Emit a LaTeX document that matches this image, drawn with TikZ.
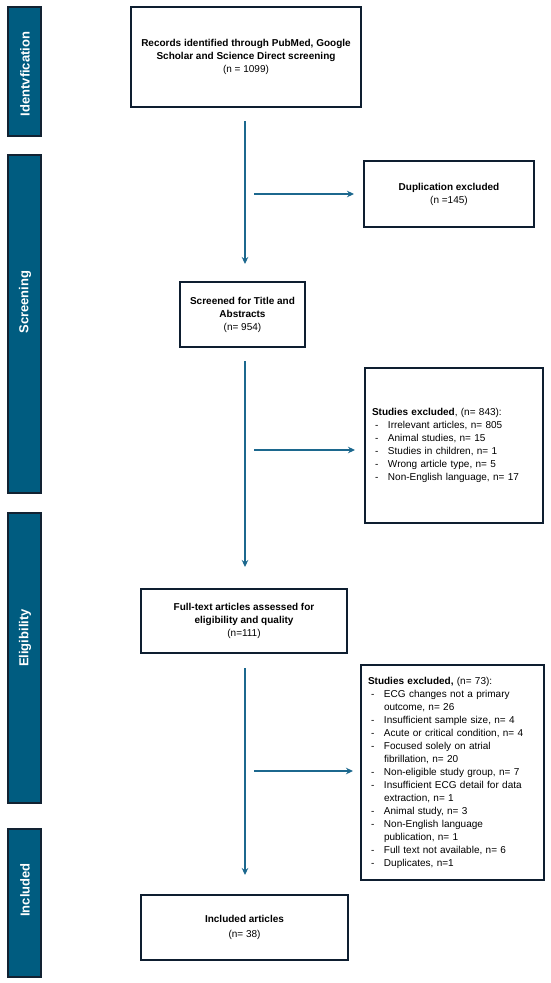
\documentclass[tikz,border=0pt]{standalone}
\usepackage{fontspec}
\setmainfont{Liberation Sans}
\usetikzlibrary{arrows.meta}
\definecolor{barfill}{RGB}{0,92,128}
\definecolor{barline}{RGB}{18,34,50}
\definecolor{arrowcol}{RGB}{28,104,142}
\definecolor{boxline}{RGB}{14,30,48}
\tikzset{
  x=1pt, y=-1pt,
  phasebar/.style={draw=barline, line width=1.4pt, fill=barfill, minimum width=33pt, inner sep=0pt},
  phasetext/.style={text=white, font=\fontsize{13}{15}\selectfont\bfseries, rotate=90, inner sep=0pt},
  flowbox/.style={draw=boxline, line width=2pt, fill=white, align=center, inner sep=2pt,
    font=\fontsize{10}{13}\selectfont},
  listbox/.style={draw=boxline, line width=2pt, fill=white, align=left, inner xsep=7pt, inner ysep=2pt,
    font=\fontsize{10}{13}\selectfont},
  arr/.style={draw=arrowcol, line width=1.3pt, -{Stealth[length=7pt,width=6.5pt]}}
}
\newcommand{\litem}[1]{\hspace*{3pt}\makebox[13pt][l]{-}#1}
\newcommand{\lcont}[1]{\hspace*{16pt}#1}
\begin{document}
\begin{tikzpicture}
\useasboundingbox (0,0) rectangle (550,983);
% phase bars
\node[phasebar, minimum height=129pt] (pb1) at (24.5,71.5) {};
\node[phasebar, minimum height=338pt] (pb2) at (24.5,324) {};
\node[phasebar, minimum height=290pt] (pb3) at (24.5,658) {};
\node[phasebar, minimum height=148pt] (pb4) at (24.5,903) {};
\node[phasetext] (pt1) at (25,74) {Identvfication};
\node[phasetext] (pt2) at (25,302) {Screening};
\node[phasetext] (pt3) at (25,638) {Eligibility};
\node[phasetext] (pt4) at (25,890) {Included};
% boxes
\node[flowbox, minimum width=230pt, minimum height=100pt] (rec) at (246,57)
  {\textbf{Records identified through PubMed, Google}\\ \textbf{Scholar and Science Direct screening}\\(n = 1099)};
\node[flowbox, minimum width=170pt, minimum height=66pt] (dup) at (449,194)
  {\textbf{Duplication excluded}\\(n =145)};
\node[flowbox, minimum width=125pt, minimum height=65pt] (scr) at (242.5,314.5)
  {\textbf{Screened for Title and}\\ \textbf{Abstracts}\\(n= 954)};
\node[listbox, minimum width=178pt, minimum height=155pt, text width=164pt] (ex1) at (454,445.5)
  {\textbf{Studies excluded}, (n= 843):\\
   \litem{Irrelevant articles, n= 805}\\
   \litem{Animal studies, n= 15}\\
   \litem{Studies in children, n= 1}\\
   \litem{Wrong article type, n= 5}\\
   \litem{Non-English language, n= 17}};
\node[flowbox, minimum width=206pt, minimum height=64pt] (full) at (244,621)
  {\textbf{Full-text articles assessed for}\\ \textbf{eligibility and quality}\\(n=111)};
\node[listbox, minimum width=183pt, minimum height=215pt, text width=169pt] (ex2) at (452.5,772.5)
  {\textbf{Studies excluded,} (n= 73):\\
   \litem{ECG changes not a primary}\\
   \lcont{outcome, n= 26}\\
   \litem{Insufficient sample size, n= 4}\\
   \litem{Acute or critical condition, n= 4}\\
   \litem{Focused solely on atrial}\\
   \lcont{fibrillation, n= 20}\\
   \litem{Non-eligible study group, n= 7}\\
   \litem{Insufficient ECG detail for data}\\
   \lcont{extraction, n= 1}\\
   \litem{Animal study, n= 3}\\
   \litem{Non-English language}\\
   \lcont{publication, n= 1}\\
   \litem{Full text not available, n= 6}\\
   \litem{Duplicates, n=1}};
\node[flowbox, minimum width=207pt, minimum height=65pt] (inc) at (244.5,927.5)
  {\textbf{Included articles}\\[2pt](n= 38)};
% connectors
\coordinate (spine) at (245,0);
\draw[arr, shorten <=13pt, shorten >=17pt] (spine |- rec.south) -- (spine |- scr.north);
\draw[arr, shorten <=13pt, shorten >=21pt] (spine |- scr.south) -- (spine |- full.north);
\draw[arr, shorten <=14pt, shorten >=19pt] (spine |- full.south) -- (spine |- inc.north);
\coordinate (h1) at (254,194);
\coordinate (h2) at (254,450);
\coordinate (h3) at (254,771);
\draw[arr, shorten >=9pt] (h1) -- (h1 -| dup.west);
\draw[arr, shorten >=9pt] (h2) -- (h2 -| ex1.west);
\draw[arr, shorten >=7pt] (h3) -- (h3 -| ex2.west);
\end{tikzpicture}
\end{document}
